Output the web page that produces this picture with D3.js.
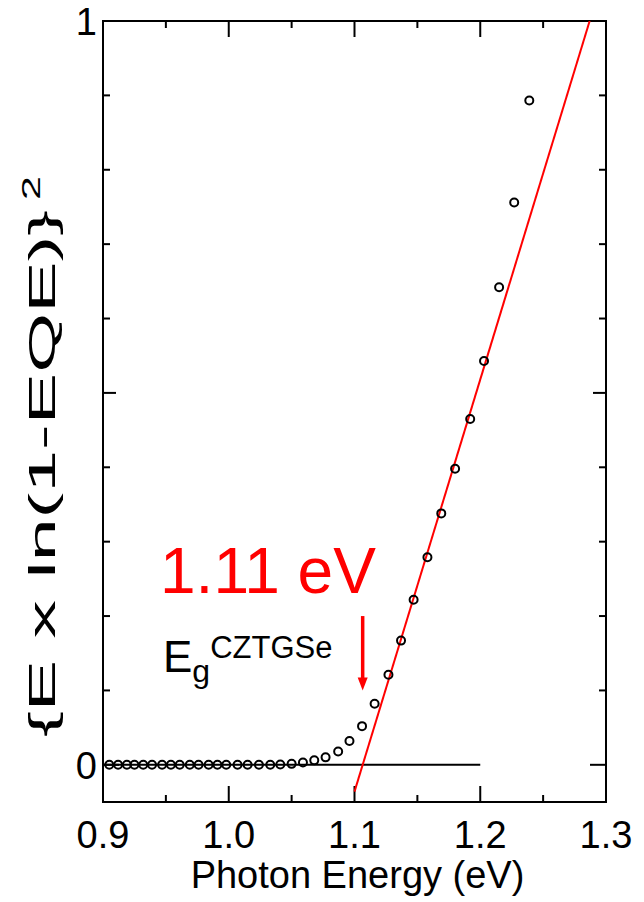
<!DOCTYPE html>
<html><head><meta charset="utf-8">
<script src="https://cdn.jsdelivr.net/npm/d3@7"></script>
<style>body{margin:0;background:#fff}svg{display:block}text{font-family:"Liberation Sans",Arial,sans-serif}</style>
</head><body>
<script>
const energy = [0.905,0.912,0.919,0.925,0.932,0.939,0.947,0.954,0.961,0.969,0.976,0.984,0.991,0.998,1.007,1.015,1.024,1.033,1.041,1.050,1.059,1.068,1.077,1.087,1.096,1.106,1.116,1.127,1.137,1.147,1.158,1.169,1.180,1.192,1.203,1.215,1.227,1.239];
const signal = [0,0,0,0,0,0,0,0,0,0,0,0,0,0,0,0,0,0,0.0005,0.0013,0.003,0.006,0.010,0.018,0.032,0.052,0.082,0.121,0.167,0.222,0.279,0.338,0.398,0.465,0.543,0.642,0.756,0.893];
const fitX = [1.100, 1.287];
const fitY = [-0.036, 1.0];
const baseX = [0.9, 1.2];
const arrowX = 1.1065;
const arrowY = [0.20, 0.10];
const xTicks = [0.9, 1.0, 1.1, 1.2, 1.3];
const xTickLabels = ["0.9","1.0","1.1","1.2","1.3"];
const xMinor = [0.95, 1.05, 1.15, 1.25];
const yTicks = [0, 1];
const yTickLabels = ["0","1"];
const yMid = [0.5];
const yMinor = [0.1,0.2,0.3,0.4,0.6,0.7,0.8,0.9];

const W = 644, H = 902;
const L = 103, R = 606, T = 21, B = 802;
const svg = d3.select("body").append("svg").attr("width", W).attr("height", H);
const x = d3.scaleLinear().domain([0.9, 1.3]).range([L, R]);
const y = d3.scaleLinear().domain([-0.05, 1]).range([B, T]);

const defs = svg.append("defs");
defs.append("clipPath").attr("id","clip").append("rect").attr("x",L).attr("y",T).attr("width",R-L).attr("height",B-T);

// ticks
const tk = svg.append("g").attr("stroke","#000").attr("stroke-width",2);
function xt(vals, len){
  vals.forEach(v=>{
    tk.append("line").attr("x1",x(v)).attr("x2",x(v)).attr("y1",B).attr("y2",B-len);
    tk.append("line").attr("x1",x(v)).attr("x2",x(v)).attr("y1",T).attr("y2",T+len);
  });
}
function yt(vals, len){
  vals.forEach(v=>{
    tk.append("line").attr("y1",y(v)).attr("y2",y(v)).attr("x1",L).attr("x2",L+len);
    tk.append("line").attr("y1",y(v)).attr("y2",y(v)).attr("x1",R).attr("x2",R-len);
  });
}
xt(xTicks, 16); xt(xMinor, 7);
yt(yTicks, 16); yt(yMid, 13); yt(yMinor, 7);

// frame
svg.append("rect").attr("x",L).attr("y",T).attr("width",R-L).attr("height",B-T)
  .attr("fill","none").attr("stroke","#000").attr("stroke-width",2);

// tick labels
svg.append("g").selectAll("text").data(xTicks).join("text")
  .attr("x",d=>x(d)).attr("y",B+46).attr("text-anchor","middle")
  .attr("font-size",38).text((d,i)=>xTickLabels[i]);
svg.append("g").selectAll("text").data(yTicks).join("text")
  .attr("x",L-6).attr("y",d=>y(d)+14).attr("text-anchor","end")
  .attr("font-size",38).text((d,i)=>yTickLabels[i]);

// axis titles
svg.append("text").attr("x",(L+R)/2 + 3).attr("y",888).attr("text-anchor","middle")
  .attr("font-size",38).text("Photon Energy (eV)");
svg.append("text").attr("transform",`translate(55,737) rotate(-90)`)
  .attr("text-anchor","start").attr("font-size",36)
  .attr("textLength",527).attr("lengthAdjust","spacingAndGlyphs")
  .text("{E x ln(1-EQE)}");
svg.append("text").attr("transform",`translate(40,200) rotate(-90)`)
  .attr("text-anchor","start").attr("font-size",26)
  .attr("textLength",24).attr("lengthAdjust","spacingAndGlyphs").text("2");

// baseline
svg.append("line").attr("x1",x(baseX[0])).attr("x2",x(baseX[1])).attr("y1",y(0)).attr("y2",y(0))
  .attr("stroke","#000").attr("stroke-width",2);

// fit line
svg.append("line").attr("clip-path","url(#clip)")
  .attr("x1",x(fitX[0])).attr("y1",y(fitY[0])).attr("x2",x(fitX[1])).attr("y2",y(fitY[1]))
  .attr("stroke","#ff0000").attr("stroke-width",2);

// points
svg.append("g").selectAll("circle").data(energy).join("circle")
  .attr("cx",d=>x(d)).attr("cy",(d,i)=>y(signal[i])).attr("r",4)
  .attr("fill","none").attr("stroke","#000").attr("stroke-width",2);

// arrow
const ax = x(arrowX), ay1 = y(arrowY[0]), ay2 = y(arrowY[1]);
svg.append("line").attr("x1",ax).attr("x2",ax).attr("y1",ay1).attr("y2",ay2-12)
  .attr("stroke","#ff0000").attr("stroke-width",3.5);
svg.append("path").attr("d",`M${ax-5},${ay2-13} L${ax+5},${ay2-13} L${ax},${ay2} Z`).attr("fill","#ff0000");

// annotations
svg.append("text").attr("x",160).attr("y",593).attr("font-size",64).attr("fill","#ff0000").text("1.11 eV");
const eg = svg.append("text").attr("x",163).attr("y",672).attr("font-size",44);
eg.append("tspan").text("E");
eg.append("tspan").attr("dy",10).attr("font-size",32).text("g");
eg.append("tspan").attr("dy",-24).attr("font-size",31).text("CZTGSe");
</script>
</body></html>
